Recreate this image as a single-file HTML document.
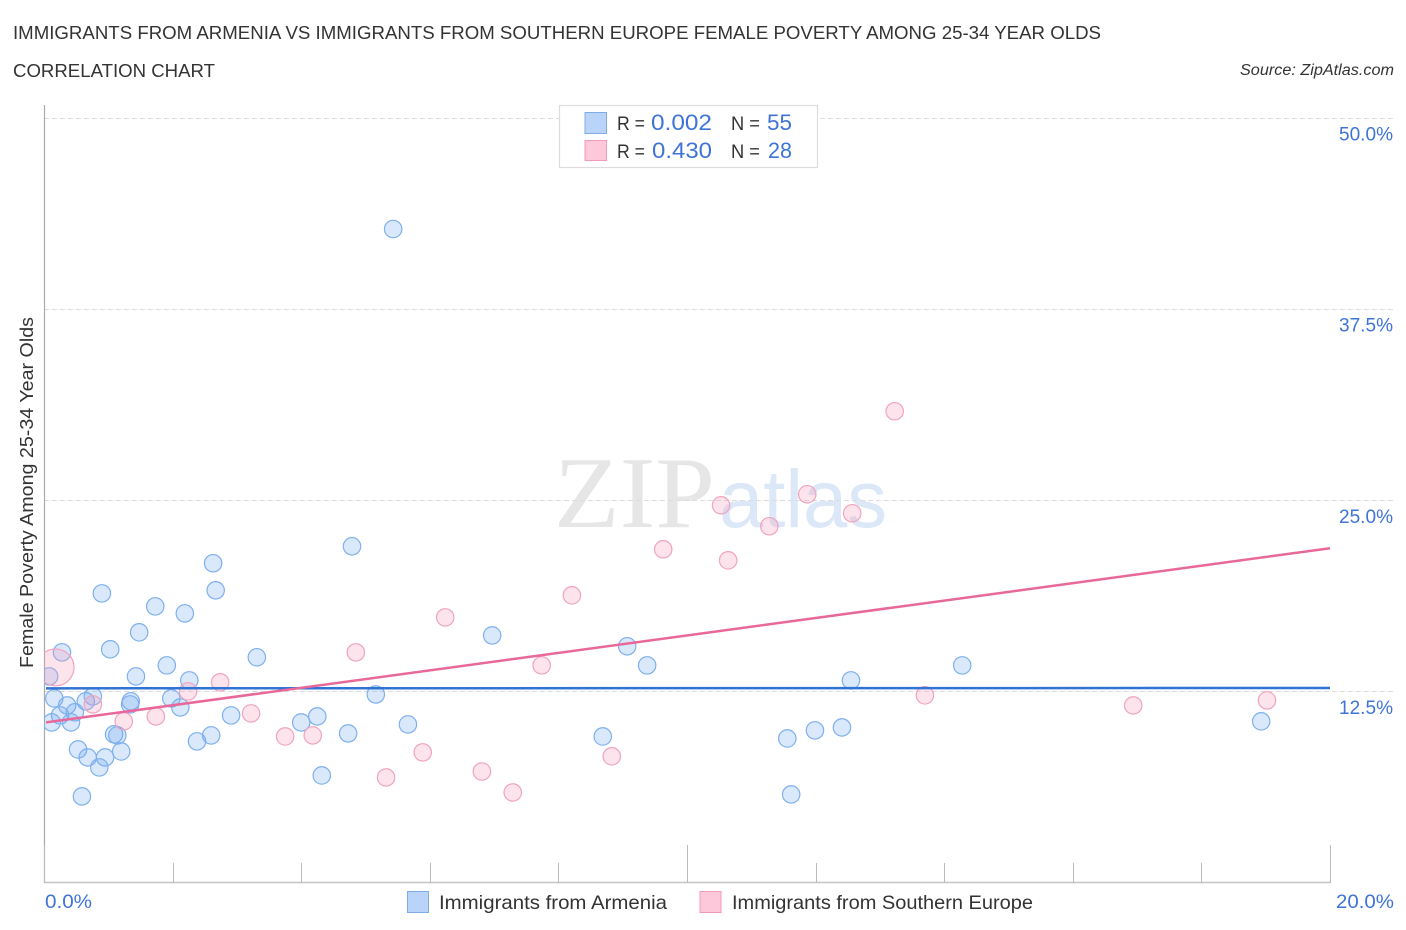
<!DOCTYPE html>
<html lang="en">
<head>
<meta charset="utf-8">
<title>Immigrants from Armenia vs Immigrants from Southern Europe Correlation Chart</title>
<style>
html,body{margin:0;padding:0;background:#fff;}
svg{display:block;}
text{font-family:"Liberation Sans",sans-serif;}
</style>
</head>
<body>
<svg id="chart" xmlns="http://www.w3.org/2000/svg" width="1406" height="930" viewBox="0 0 1406 930">
  <defs>
    <clipPath id="plot-clip"><rect x="44" y="100" width="1300" height="783"></rect></clipPath>
  </defs>
  <text x="13" y="39" font-size="18.5" fill="#333" textLength="1088" lengthAdjust="spacingAndGlyphs">IMMIGRANTS FROM ARMENIA VS IMMIGRANTS FROM SOUTHERN EUROPE FEMALE POVERTY AMONG 25-34 YEAR OLDS</text>
  <text x="13" y="77" font-size="18.5" fill="#333" textLength="202" lengthAdjust="spacingAndGlyphs">CORRELATION CHART</text>
  <text x="1394" y="75" font-size="15.5" font-style="italic" fill="#333" text-anchor="end" textLength="154" lengthAdjust="spacingAndGlyphs">Source: ZipAtlas.com</text>

  <g>
    <text x="554" y="527" font-size="102" fill="#e6e6e6" textLength="161" lengthAdjust="spacingAndGlyphs" style="font-family:'Liberation Serif',serif">ZIP</text>
    <text x="719" y="527" font-size="82" fill="#dce8f8" textLength="168" lengthAdjust="spacingAndGlyphs">atlas</text>
  </g>

  <g id="grid"></g>
  <g id="axes"></g>
  <g id="points" clip-path="url(#plot-clip)"></g>
  <g id="trends"></g>
  <g id="y-labels"></g>

  <text x="45" y="908" font-size="19" fill="#3f74d6" textLength="47" lengthAdjust="spacingAndGlyphs">0.0%</text>
  <text x="1394" y="908" font-size="19" fill="#3f74d6" text-anchor="end" textLength="58" lengthAdjust="spacingAndGlyphs">20.0%</text>

  <text transform="translate(33,668) rotate(-90)" font-size="18" fill="#333" textLength="351" lengthAdjust="spacingAndGlyphs">Female Poverty Among 25-34 Year Olds</text>

  <g>
    <rect x="559.5" y="105.5" width="258" height="62" fill="#fff" stroke="#ddd" stroke-width="1.2"></rect>
    <rect x="585" y="112.5" width="21.5" height="21" fill="#b9d4f8" stroke="#7fabe6" stroke-width="1"></rect>
    <rect x="585" y="140.5" width="21.5" height="20" fill="#fcc8da" stroke="#f29ab8" stroke-width="1"></rect>
    <text x="617" y="130" font-size="19" fill="#333" textLength="28" lengthAdjust="spacingAndGlyphs">R =</text>
    <text x="651" y="130" font-size="22" fill="#3f74d6" textLength="61" lengthAdjust="spacingAndGlyphs">0.002</text>
    <text x="731" y="130" font-size="19" fill="#333" textLength="29" lengthAdjust="spacingAndGlyphs">N =</text>
    <text x="767" y="130" font-size="22" fill="#3f74d6" textLength="25" lengthAdjust="spacingAndGlyphs">55</text>
    <text x="617" y="158" font-size="19" fill="#333" textLength="28" lengthAdjust="spacingAndGlyphs">R =</text>
    <text x="652" y="158" font-size="22" fill="#3f74d6" textLength="60" lengthAdjust="spacingAndGlyphs">0.430</text>
    <text x="731" y="158" font-size="19" fill="#333" textLength="29" lengthAdjust="spacingAndGlyphs">N =</text>
    <text x="768" y="158" font-size="22" fill="#3f74d6" textLength="24" lengthAdjust="spacingAndGlyphs">28</text>
  </g>

  <g>
    <rect x="407.5" y="891.5" width="21" height="21" fill="#b9d4f8" stroke="#7fabe6" stroke-width="1"></rect>
    <text x="439" y="909" font-size="19.5" fill="#333" textLength="228" lengthAdjust="spacingAndGlyphs">Immigrants from Armenia</text>
    <rect x="700" y="891.5" width="21" height="21" fill="#fcc8da" stroke="#f29ab8" stroke-width="1"></rect>
    <text x="732" y="909" font-size="19.5" fill="#333" textLength="301" lengthAdjust="spacingAndGlyphs">Immigrants from Southern Europe</text>
  </g>
</svg>
<script>
const yTickValues = [12.5, 25, 37.5, 50];
const yTickLabels = ['12.5%', '25.0%', '37.5%', '50.0%'];
const xTickValues = [0, 2, 4, 6, 8, 10, 12, 14, 16, 18, 20];
const xMajorTickValues = [0, 10, 20];

const armeniaX = [5.43,4.79,2.63,2.67,0.90,1.73,2.19,1.48,6.97,1.03,0.28,3.31,9.07,9.38,14.28,1.91,1.43,12.55,2.26,0.08,5.16,0.16,0.36,0.65,0.76,1.35,1.34,1.98,2.12,0.48,0.25,0.12,0.42,2.91,4.25,4.00,5.66,1.09,1.14,2.60,2.38,4.73,8.69,11.56,11.99,12.41,18.93,0.53,1.20,0.95,0.68,0.86,4.32,0.59,11.62];
const armeniaY = [42.74,21.99,20.88,19.11,18.91,18.06,17.60,16.36,16.16,15.25,15.05,14.73,15.45,14.20,14.20,14.20,13.48,13.22,13.22,13.48,12.30,12.04,11.58,11.85,12.17,11.85,11.65,12.04,11.45,11.13,10.93,10.47,10.47,10.93,10.86,10.47,10.34,9.69,9.62,9.62,9.23,9.75,9.55,9.42,9.95,10.14,10.54,8.70,8.57,8.18,8.18,7.53,7.00,5.63,5.76];

const europeX = [0.18,0.76,1.24,1.74,2.24,2.74,3.22,3.75,4.18,4.85,6.24,5.89,5.32,6.81,7.29,7.74,8.21,8.83,9.63,10.53,10.64,11.28,11.87,12.57,13.23,13.70,16.94,19.02];
const europeY = [14.07,11.65,10.54,10.86,12.50,13.09,11.06,9.55,9.62,15.05,17.34,8.51,6.87,7.26,5.89,14.20,18.78,8.25,21.79,24.67,21.07,23.30,25.39,24.15,30.82,12.24,11.58,11.91];
const europeWeight = [4.5,1,1,1,1,1,1,1,1,1,1,1,1,1,1,1,1,1,1,1,1,1,1,1,1,1,1,1];

const armeniaTrendX = [0, 20];
const armeniaTrendY = [12.7, 12.72];
const europeTrendX = [0, 20];
const europeTrendY = [10.47, 21.86];

const xScale = v => 44 + v * 64.3;
const yScale = v => 882.5 - v * 15.29;
const NS = 'http://www.w3.org/2000/svg';

function make(tag, attrs, parent) {
  const el = document.createElementNS(NS, tag);
  for (const k in attrs) el.setAttribute(k, attrs[k]);
  parent.appendChild(el);
  return el;
}

const grid = document.getElementById('grid');
const axes = document.getElementById('axes');
const points = document.getElementById('points');
const trends = document.getElementById('trends');
const yLabels = document.getElementById('y-labels');

yTickValues.forEach((v, i) => {
  const y = Math.round(yScale(v)) + 0.5;
  const line = make('line', {x1: 44, x2: 1393, y1: y, y2: y, stroke: '#dcdcdc', 'stroke-width': 1, 'stroke-dasharray': '5 3'}, grid);
  
  
  const label = make('text', {x: 1393, y: yScale(v) + 22.5, 'font-size': 19.5, fill: '#3f74d6', 'text-anchor': 'end', textLength: 54, lengthAdjust: 'spacingAndGlyphs'}, yLabels);
  label.textContent = yTickLabels[i];
  
  
});

const yAxis = make('line', {x1: 44.5, x2: 44.5, y1: 105, y2: 883, stroke: '#aaa', 'stroke-width': 1.2}, axes);


const xAxis = make('line', {x1: 44, x2: 1331, y1: 882.5, y2: 882.5, stroke: '#c4c4c4', 'stroke-width': 1.5}, axes);



xTickValues.forEach(v => {
  const x = Math.round(xScale(v)) + 0.5;
  const top = xMajorTickValues.includes(v) ? 845 : 863;
  const tick = make('line', {x1: x, x2: x, y1: top, y2: 883, stroke: '#bbb', 'stroke-width': 1}, axes);
  
  
});

armeniaX.forEach((v, i) => {
  const c = make('circle', {cx: xScale(v), cy: yScale(armeniaY[i]), r: 8.7, fill: 'rgba(110,165,240,0.26)', stroke: '#7fb0ee', 'stroke-width': 1.2}, points);
  
  
});

europeX.forEach((v, i) => {
  const c = make('circle', {cx: xScale(v), cy: yScale(europeY[i]), r: 8.7 * Math.sqrt(europeWeight[i]), fill: 'rgba(246,150,182,0.26)', stroke: '#f0a4bd', 'stroke-width': 1.2}, points);
  
  
});

const blueTrend = make('line', {x1: xScale(armeniaTrendX[0]) + 2, x2: xScale(armeniaTrendX[1]), y1: yScale(armeniaTrendY[0]), y2: yScale(armeniaTrendY[1]), stroke: '#2f74d4', 'stroke-width': 2.5}, trends);


const pinkTrend = make('line', {x1: xScale(europeTrendX[0]) + 2, x2: xScale(europeTrendX[1]), y1: yScale(europeTrendY[0]), y2: yScale(europeTrendY[1]), stroke: '#e8689a', 'stroke-width': 2.5}, trends);


</script>
</body>
</html>
